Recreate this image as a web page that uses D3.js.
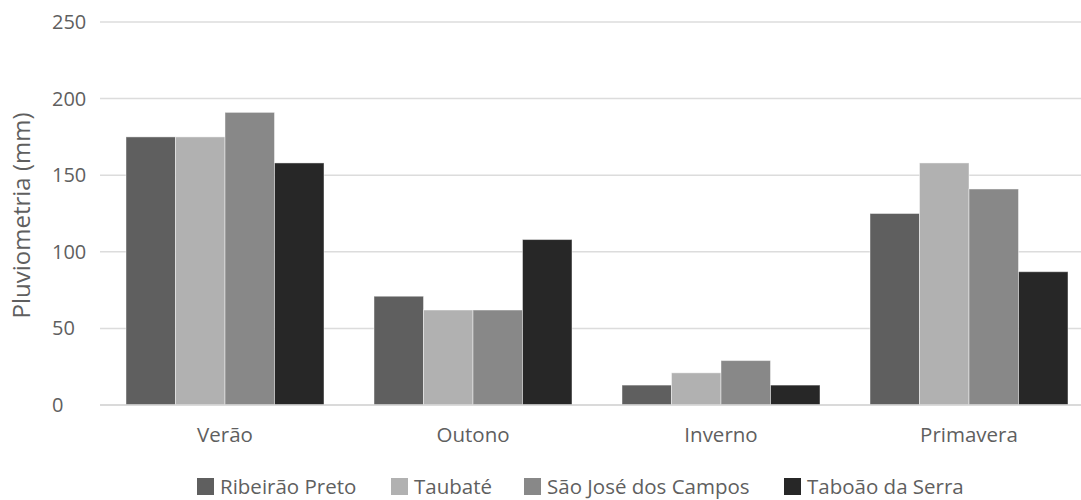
<!DOCTYPE html>
<html>
<head>
<meta charset="utf-8">
<script src="https://cdn.jsdelivr.net/npm/d3@7"></script>
<style>
  html, body { margin: 0; padding: 0; background: #fff; }
  svg { display: block; font-family: "Open Sans", sans-serif; }
</style>
</head>
<body>
<svg id="chart" width="1081" height="500"></svg>
<script>
// Seasonal rainfall by station
const seasons = ["Verão", "Outono", "Inverno", "Primavera"];
const stations = ["Ribeirão Preto", "Taubaté", "São José dos Campos", "Taboão da Serra"];
const ribeiraoPreto = [175, 71, 13, 125];
const taubate = [175, 62, 21, 158];
const saoJoseDosCampos = [191, 62, 29, 141];
const taboaoDaSerra = [158, 108, 13, 87];
const yTicks = [0, 50, 100, 150, 200, 250];
const colors = ["#5f5f5f", "#b1b1b1", "#888888", "#272727"];

const seriesValues = [ribeiraoPreto, taubate, saoJoseDosCampos, taboaoDaSerra];
const rows = seasons.map((s, i) => ({
  season: s,
  values: stations.map((st, j) => ({ station: st, value: seriesValues[j][i], idx: j }))
}));

const svg = d3.select("#chart");
const plot = { left: 101, right: 1093, top: 22, bottom: 405 };
const textColor = "#5f5f5f";

const x0 = d3.scaleBand()
  .domain(seasons)
  .range([plot.left, plot.right])
  .paddingInner(0.2016)
  .paddingOuter(0.1008);

const x1 = d3.scaleBand()
  .domain(stations)
  .range([0, x0.bandwidth()])
  .padding(0);

const y = d3.scaleLinear()
  .domain([0, 250])
  .range([plot.bottom, plot.top]);

const color = d3.scaleOrdinal().domain(stations).range(colors);

// Horizontal gridlines
svg.append("g")
  .selectAll("line")
  .data(yTicks)
  .join("line")
  .attr("x1", 100)
  .attr("x2", 1081)
  .attr("y1", d => y(d))
  .attr("y2", d => y(d))
  .attr("stroke", "#dcdcdc")
  .attr("stroke-width", 1.5);

// Y tick labels
svg.append("g")
  .selectAll("text")
  .data(yTicks)
  .join("text")
  .attr("x", 52)
  .attr("y", d => y(d) + 7)
  .attr("fill", textColor)
  .attr("font-size", 20)
  .text(d => d);

// Y axis title
svg.append("text")
  .attr("transform", `translate(30, ${(plot.top + plot.bottom) / 2 + 2}) rotate(-90)`)
  .attr("text-anchor", "middle")
  .attr("fill", textColor)
  .attr("font-size", 24)
  .text("Pluviometria (mm)");

// Grouped bars
const groups = svg.append("g")
  .selectAll("g")
  .data(rows)
  .join("g")
  .attr("transform", d => `translate(${x0(d.season)},0)`);

groups.selectAll("rect")
  .data(d => d.values)
  .join("rect")
  .attr("x", d => x1(d.station))
  .attr("width", x1.bandwidth())
  .attr("y", d => y(d.value))
  .attr("height", d => y(0) - y(d.value))
  .attr("fill", d => color(d.station))
  .attr("stroke", "rgba(255,255,255,0.45)")
  .attr("stroke-width", 1);

// Baseline
svg.append("line")
  .attr("x1", 100).attr("x2", 1081)
  .attr("y1", y(0)).attr("y2", y(0))
  .attr("stroke", "#d6d6d6")
  .attr("stroke-width", 1.5);

// Category labels
svg.append("g")
  .selectAll("text")
  .data(seasons)
  .join("text")
  .attr("x", d => x0(d) + x0.bandwidth() / 2)
  .attr("y", 442)
  .attr("text-anchor", "middle")
  .attr("fill", textColor)
  .attr("font-size", 20.5)
  .text(d => d);

// Legend
const legendX = [197, 391, 524, 784];
const legend = svg.append("g")
  .selectAll("g")
  .data(stations)
  .join("g")
  .attr("transform", (d, i) => `translate(${legendX[i]}, 478)`);

legend.append("rect")
  .attr("width", 17)
  .attr("height", 17)
  .attr("fill", d => color(d));

legend.append("text")
  .attr("x", 23)
  .attr("y", 16)
  .attr("fill", textColor)
  .attr("font-size", 20.5)
  .text(d => d);
</script>
</body>
</html>
